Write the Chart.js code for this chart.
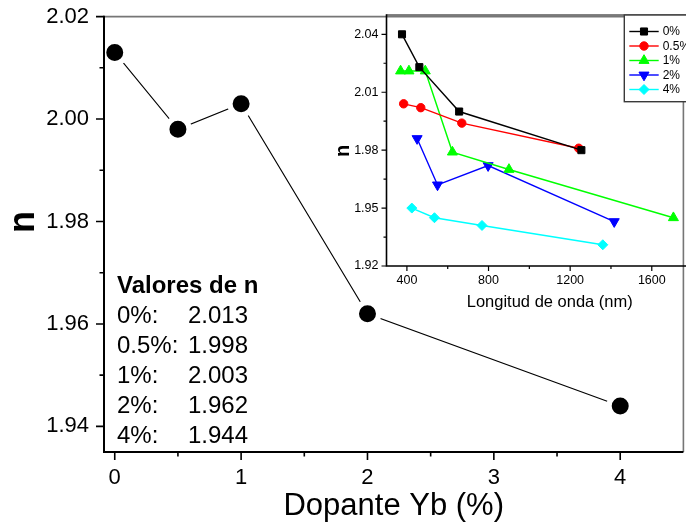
<!DOCTYPE html>
<html>
<head>
<meta charset="utf-8">
<script src="https://cdn.jsdelivr.net/npm/chart.js@4/dist/chart.umd.min.js"></script>
<style>
  html, body { margin: 0; padding: 0; width: 686px; height: 527px; overflow: hidden; background: #fff; }
  #wrap { position: relative; width: 686px; height: 527px; overflow: hidden; }
  #main { position: absolute; left: 0; top: 0; }
  #inset { position: absolute; left: 330px; top: 0; }
  #valores { position: absolute; left: 117px; top: 270px; font: 24px/30px "Liberation Sans", Arial, Helvetica, sans-serif; color: #000; white-space: nowrap; }
  #valores .h { font-weight: bold; }
  #valores .k { display: inline-block; width: 71px; }
</style>
</head>
<body>
<div id="wrap">
  <canvas id="main" width="700" height="527"></canvas>
  <canvas id="inset" width="410" height="320"></canvas>
  <div id="valores"></div>
</div>
<script>
// Refractive index n as a function of Yb doping
const dopingLevels = [0, 0.5, 1, 2, 4];
const dopingLabels = ['0%', '0.5%', '1%', '2%', '4%'];
const nValues = [2.013, 1.998, 2.003, 1.962, 1.944];

const mainXTicks = [0, 1, 2, 3, 4];
const mainXMinor = [0.5, 1.5, 2.5, 3.5];
const mainYTicks = [1.94, 1.96, 1.98, 2.00, 2.02];
const mainYMinor = [1.95, 1.97, 1.99, 2.01];

// Dispersion n(λ) for each doping level (wavelength in nm)
const wl0 = [376, 461, 656, 1255];
const n0 = [2.040, 2.023, 2.000, 1.980];
const wl05 = [384, 468, 669, 1242];
const n05 = [2.004, 2.002, 1.994, 1.981];
const wl1 = [369, 410, 490, 623, 900, 1706];
const n1 = [2.021, 2.021, 2.021, 1.979, 1.970, 1.945];
const wl2 = [450, 550, 798, 1416];
const n2 = [1.986, 1.962, 1.972, 1.943];
const wl4 = [424, 535, 768, 1360];
const n4 = [1.950, 1.945, 1.941, 1.931];

const insetXTicks = [400, 800, 1200, 1600];
const insetXMinor = [600, 1000, 1400, 1800];
const insetYTicks = [1.92, 1.95, 1.98, 2.01, 2.04];
const insetYMinor = [1.935, 1.965, 1.995, 2.025];

const FONT = '"Liberation Sans", Arial, Helvetica, sans-serif';

// Text box listing the values
const box = document.getElementById('valores');
let html = '<div class="h">Valores de n</div>';
dopingLabels.forEach((lab, i) => {
  html += '<div><span class="k">' + lab + ':</span>' + nValues[i].toFixed(3) + '</div>';
});
box.innerHTML = html;

const pts = (xs, ys) => xs.map((x, i) => ({ x: x, y: ys[i] }));
const setTicks = values => s => { s.ticks = values.map(v => ({ value: v })); };
const fixWidth = w => s => { s.width = w; s.paddingTop = 0; s.paddingBottom = 0; };
const fixHeight = h => s => { s.height = h; s.paddingLeft = 0; s.paddingRight = 0; };

// Axis frame, tick marks and rotated y title drawn on top of the data
const framePlugin = {
  id: 'frame',
  afterDatasetsDraw(chart, args, o) {
    const ctx = chart.ctx;
    const a = chart.chartArea;
    const xs = chart.scales.x, ys = chart.scales.y;
    ctx.save();
    ctx.lineCap = 'butt';
    // top and right border
    ctx.strokeStyle = o.topColor;
    ctx.lineWidth = o.topWidth;
    ctx.beginPath();
    ctx.moveTo(a.left, a.top);
    ctx.lineTo(a.right, a.top);
    ctx.lineTo(a.right, a.bottom);
    ctx.stroke();
    // left and bottom axes
    ctx.strokeStyle = '#000';
    ctx.lineWidth = o.lw;
    ctx.beginPath();
    ctx.moveTo(a.left, a.top - o.topWidth / 2);
    ctx.lineTo(a.left, a.bottom + o.lw / 2);
    ctx.moveTo(a.left - o.lw / 2, a.bottom);
    ctx.lineTo(a.right, a.bottom);
    ctx.stroke();
    // tick marks
    ctx.lineWidth = o.tickWidth;
    ctx.beginPath();
    xs.ticks.forEach(t => {
      const px = xs.getPixelForValue(t.value);
      ctx.moveTo(px, a.bottom); ctx.lineTo(px, a.bottom + o.major);
    });
    o.xMinor.forEach(v => {
      const px = xs.getPixelForValue(v);
      if (px < a.right) { ctx.moveTo(px, a.bottom); ctx.lineTo(px, a.bottom + o.minor); }
    });
    ys.ticks.forEach(t => {
      const py = ys.getPixelForValue(t.value);
      ctx.moveTo(a.left, py); ctx.lineTo(a.left - o.major, py);
    });
    o.yMinor.forEach(v => {
      const py = ys.getPixelForValue(v);
      ctx.moveTo(a.left, py); ctx.lineTo(a.left - o.minor, py);
    });
    ctx.stroke();
    // y axis title
    const t = o.yTitle;
    ctx.translate(t.x, t.y);
    ctx.rotate(-Math.PI / 2);
    ctx.fillStyle = '#000';
    ctx.font = t.font;
    ctx.textAlign = 'center';
    ctx.textBaseline = 'alphabetic';
    ctx.fillText(t.text, 0, 0);
    ctx.restore();
  }
};

// Marker drawing used by the inset legend
function drawMarker(ctx, ds, x, y) {
  const r = ds.pointRadius;
  ctx.fillStyle = ds.pointBackgroundColor;
  ctx.strokeStyle = ds.pointBorderColor;
  ctx.lineWidth = ds.pointBorderWidth;
  ctx.beginPath();
  switch (ds.pointStyle) {
    case 'rect': {
      const s = Math.SQRT1_2 * r;
      ctx.rect(x - s, y - s, 2 * s, 2 * s);
      break;
    }
    case 'rectRot':
      ctx.moveTo(x, y - r); ctx.lineTo(x + r, y); ctx.lineTo(x, y + r); ctx.lineTo(x - r, y); ctx.closePath();
      break;
    case 'triangle': {
      const rot = (ds.pointRotation || 0) * Math.PI / 180;
      for (let k = 0; k < 3; k++) {
        const ang = rot - Math.PI / 2 + k * 2 * Math.PI / 3;
        const px = x + Math.cos(ang) * r, py = y + Math.sin(ang) * r;
        if (k === 0) ctx.moveTo(px, py); else ctx.lineTo(px, py);
      }
      ctx.closePath();
      break;
    }
    default:
      ctx.arc(x, y, r, 0, 2 * Math.PI);
  }
  ctx.fill();
  ctx.stroke();
}

// Boxed legend with line + marker samples
const boxLegendPlugin = {
  id: 'boxLegend',
  afterDraw(chart, args, o) {
    const ctx = chart.ctx;
    ctx.save();
    ctx.fillStyle = '#fff';
    ctx.fillRect(o.x, o.y, o.w, o.h);
    ctx.strokeStyle = '#3a3a3a';
    ctx.lineWidth = 1.4;
    ctx.strokeRect(o.x, o.y, o.w, o.h);
    ctx.font = o.font;
    ctx.textBaseline = 'middle';
    chart.data.datasets.forEach((ds, i) => {
      const yy = o.row0 + i * o.step;
      ctx.strokeStyle = ds.borderColor;
      ctx.lineWidth = ds.borderWidth;
      ctx.beginPath();
      ctx.moveTo(o.line0, yy);
      ctx.lineTo(o.line1, yy);
      ctx.stroke();
      drawMarker(ctx, ds, (o.line0 + o.line1) / 2, yy);
      ctx.fillStyle = '#000';
      ctx.fillText(ds.label, o.textX, yy + 0.5);
    });
    ctx.restore();
  }
};

const common = {
  responsive: false,
  animation: false,
  devicePixelRatio: 1,
  events: [],
  elements: { line: { tension: 0 } }
};

// Main chart: n vs doping
new Chart(document.getElementById('main'), {
  type: 'line',
  data: {
    datasets: [{
      label: 'n',
      data: pts(dopingLevels, nValues),
      borderColor: '#000',
      borderWidth: 1.1,
      fill: false,
      pointStyle: 'circle',
      pointRadius: 11.2,
      pointHoverRadius: 11.2,
      pointBorderWidth: 5.4,
      pointBackgroundColor: '#000',
      pointBorderColor: '#fff',
      clip: false
    }]
  },
  options: Object.assign({}, common, {
    layout: { padding: { top: 15.5, right: 4.5, bottom: 0, left: 0 } },
    plugins: {
      legend: { display: false },
      tooltip: { enabled: false },
      frame: {
        lw: 2, tickWidth: 1.6, topColor: '#767676', topWidth: 1.6,
        major: 8, minor: 4.5,
        xMinor: mainXMinor, yMinor: mainYMinor,
        yTitle: { text: 'n', x: 33.5, y: 222, font: 'bold 36px ' + FONT }
      }
    },
    scales: {
      x: {
        type: 'linear', min: -0.085, max: 4.5,
        afterBuildTicks: setTicks(mainXTicks),
        afterFit: fixHeight(75),
        grid: { display: false, drawTicks: false },
        border: { display: false },
        ticks: { padding: 13, color: '#000', font: { family: FONT, size: 22 }, callback: v => String(v) },
        title: { display: true, text: 'Dopante Yb (%)', color: '#000', font: { family: FONT, size: 31 }, padding: { top: 0, bottom: 2 } }
      },
      y: {
        type: 'linear', min: 1.935, max: 2.02,
        afterBuildTicks: setTicks(mainYTicks),
        afterFit: fixWidth(104),
        grid: { display: false, drawTicks: false },
        border: { display: false },
        ticks: { padding: 15, color: '#000', font: { family: FONT, size: 22 }, callback: v => v.toFixed(2) }
      }
    }
  }),
  plugins: [framePlugin]
});

// Inset: n vs wavelength
const series = [
  { label: '0%', wl: wl0, n: n0, color: '#000000', style: 'rect', r: 5, rot: 0 },
  { label: '0.5%', wl: wl05, n: n05, color: '#ff0000', style: 'circle', r: 4.2, rot: 0 },
  { label: '1%', wl: wl1, n: n1, color: '#00ff00', style: 'triangle', r: 5.8, rot: 0 },
  { label: '2%', wl: wl2, n: n2, color: '#0000ff', style: 'triangle', r: 5.8, rot: 180 },
  { label: '4%', wl: wl4, n: n4, color: '#00ffff', style: 'rectRot', r: 5, rot: 0 }
];

new Chart(document.getElementById('inset'), {
  type: 'line',
  data: {
    datasets: series.map(s => ({
      label: s.label,
      data: pts(s.wl, s.n),
      borderColor: s.color,
      borderWidth: 1.4,
      fill: false,
      pointStyle: s.style,
      pointRotation: s.rot,
      pointRadius: s.r,
      pointHoverRadius: s.r,
      pointBorderWidth: 1,
      pointBackgroundColor: s.color,
      pointBorderColor: s.color,
      clip: false
    }))
  },
  options: Object.assign({}, common, {
    layout: { padding: { top: 15, right: 27, bottom: 0, left: 0 } },
    plugins: {
      legend: { display: false },
      tooltip: { enabled: false },
      frame: {
        lw: 1.6, tickWidth: 1.2, topColor: '#5a5a5a', topWidth: 1.4,
        major: 5, minor: 3,
        xMinor: insetXMinor, yMinor: insetYMinor,
        yTitle: { text: 'n', x: 19, y: 151, font: 'bold 20px ' + FONT }
      },
      boxLegend: {
        x: 294.3, y: 15, w: 100, h: 86.7,
        row0: 31.5, step: 14.5,
        line0: 299.3, line1: 328.7, textX: 332.7,
        font: '12px ' + FONT
      }
    },
    scales: {
      x: {
        type: 'linear', min: 300, max: 1900,
        afterBuildTicks: setTicks(insetXTicks),
        afterFit: fixHeight(54),
        grid: { display: false, drawTicks: false },
        border: { display: false },
        ticks: { padding: 7.5, color: '#000', font: { family: FONT, size: 12.5 }, callback: v => String(v) },
        title: { display: true, text: 'Longitud de onda (nm)', color: '#000', font: { family: FONT, size: 16.5 }, padding: { top: 0, bottom: 8 } }
      },
      y: {
        type: 'linear', min: 1.92, max: 2.05,
        afterBuildTicks: setTicks(insetYTicks),
        afterFit: fixWidth(56.5),
        grid: { display: false, drawTicks: false },
        border: { display: false },
        ticks: { padding: 8, color: '#000', font: { family: FONT, size: 12.5 }, callback: v => v.toFixed(2) }
      }
    }
  }),
  plugins: [framePlugin, boxLegendPlugin]
});
</script>
</body>
</html>
